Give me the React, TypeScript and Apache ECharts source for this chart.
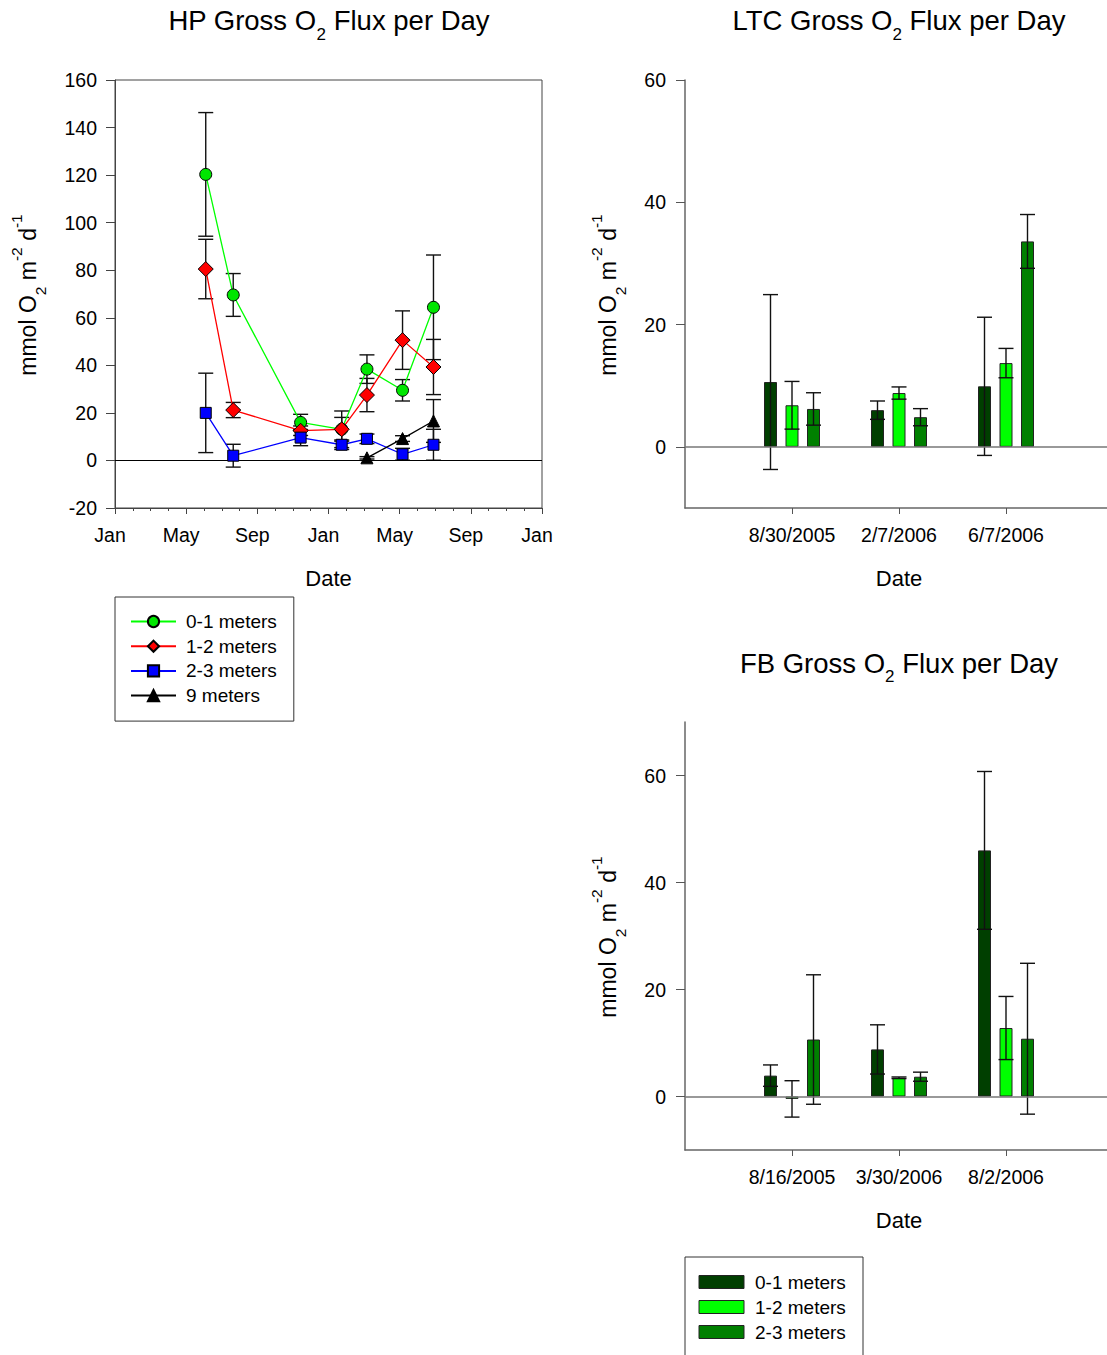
import React, { useEffect, useRef } from 'react';
import * as echarts from 'echarts';

const FONT = '"Liberation Sans", Arial, Helvetica, sans-serif';

// ---------- HP data ----------
const hpDates = ['2005-06-04', '2005-07-21', '2005-11-14', '2006-01-24', '2006-03-06', '2006-05-06', '2006-06-28'];
const hp01 = [120.3, 69.6, 16.0, 13.1, 38.4, 29.5, 64.4];
const hp01Err = [26, 9, 3.4, 5, 6, 4.5, 22];
const hp12 = [80.5, 21.2, 12.5, 13.1, 27.5, 50.6, 39.3];
const hp12Err = [12.5, 3.2, 2, 7.7, 7, 12.3, 11.6];
const hp23 = [20.0, 2.0, 9.6, 6.6, 9.1, 2.6, 6.6];
const hp23Err = [16.7, 4.8, 3.4, 2, 2, 2.5, 6.5];
const hp9Dates = ['2006-03-06', '2006-05-06', '2006-06-28'];
const hp9 = [1.1, 9.2, 16.6];
const hp9Err = [0.5, 1.2, 9];
const monthNames = ['Jan', 'Feb', 'Mar', 'Apr', 'May', 'Jun', 'Jul', 'Aug', 'Sep', 'Oct', 'Nov', 'Dec'];
const hpLegend = ['0-1 meters', '1-2 meters', '2-3 meters', '9 meters'];

// ---------- LTC data ----------
const ltcCats = ['', '8/30/2005', '2/7/2006', '6/7/2006', ''];
const ltc01 = [10.6, 6.0, 9.9];
const ltc01Err = [14.3, 1.5, 11.3];
const ltc12 = [6.8, 8.8, 13.7];
const ltc12Err = [3.9, 1.0, 2.4];
const ltc23 = [6.2, 4.85, 33.6];
const ltc23Err = [2.65, 1.4, 4.4];

// ---------- FB data ----------
const fbCats = ['', '8/16/2005', '3/30/2006', '8/2/2006', ''];
const fb01 = [3.9, 8.8, 46.0];
const fb01Err = [2.0, 4.6, 14.75];
const fb12 = [-0.45, 3.5, 12.8];
const fb12Err = [3.4, 0.15, 5.9];
const fb23 = [10.65, 3.7, 10.8];
const fb23Err = [12.1, 0.85, 14.1];
const barNames = ['0-1 meters', '1-2 meters', '2-3 meters'];
const barColors = ['#003f00', '#00ff00', '#008000'];

// ---------- texts ----------
const titleParts = (site: string) => [`${site} Gross O`, '2', ' Flux per Day'];
const yNameParts = ['mmol O', '2', ' m', '-2', ' d', '-1'];
const yNameKinds = ['m', 'sub', 'm', 'sup', 'm', 'sup'];

const BAR_W = 13;
const BAR_GAP = 8.5;

const toMonth = (s: string) => {
  const [y, m, d] = s.split('-').map(Number);
  const dim = new Date(y, m, 0).getDate();
  return (y - 2005) * 12 + (m - 1) + (d - 1) / dim;
};

let measureCtx: CanvasRenderingContext2D | null = null;
function measure(text: string, size: number) {
  if (!measureCtx) measureCtx = document.createElement('canvas').getContext('2d');
  if (!measureCtx) return text.length * size * 0.55;
  measureCtx.font = `${size}px "Liberation Sans", Arial, sans-serif`;
  return measureCtx.measureText(text).width;
}

type Part = { text: string; size: number; dy: number };
function richRow(parts: Part[]) {
  let x = 0;
  const children: any[] = [];
  parts.forEach((p) => {
    children.push({
      type: 'text',
      x,
      y: p.dy,
      style: { text: p.text, fontSize: p.size, fontFamily: FONT, fill: '#000', align: 'left', verticalAlign: 'middle' },
    });
    x += measure(p.text, p.size);
  });
  return { children, width: x };
}

function titleGraphic(site: string, cx: number, cy: number) {
  const sizes = [27.5, 17, 27.5];
  const dys = [0, 13.5, 0];
  const row = richRow(titleParts(site).map((t, i) => ({ text: t, size: sizes[i], dy: dys[i] })));
  return { type: 'group', x: cx - row.width / 2, y: cy, children: row.children };
}

function yNameGraphic(cx: number, cy: number) {
  const sz: any = { m: 23, sub: 15.5, sup: 15.5 };
  const dy: any = { m: 0, sub: 12.5, sup: -11.5 };
  const row = richRow(yNameParts.map((t, i) => ({ text: t, size: sz[yNameKinds[i]], dy: dy[yNameKinds[i]] })));
  return { type: 'group', x: cx, y: cy + row.width / 2, rotation: Math.PI / 2, children: row.children };
}

function errSeries(xIdx: number, yIdx: number, data: number[][], offset: number, z: number) {
  return {
    type: 'custom',
    xAxisIndex: xIdx,
    yAxisIndex: yIdx,
    z,
    silent: true,
    data,
    encode: { x: 0, y: 1 },
    renderItem: (params: any, api: any) => {
      const x0 = api.value(0);
      const v = api.value(1);
      const e = api.value(2);
      const top = api.coord([x0, v + e]);
      const bot = api.coord([x0, v - e]);
      const x = top[0] + offset;
      const st = { stroke: '#111', lineWidth: 1.4 };
      return {
        type: 'group',
        children: [
          { type: 'line', shape: { x1: x, y1: top[1], x2: x, y2: bot[1] }, style: st },
          { type: 'line', shape: { x1: x - 7.5, y1: top[1], x2: x + 7.5, y2: top[1] }, style: st },
          { type: 'line', shape: { x1: x - 7.5, y1: bot[1], x2: x + 7.5, y2: bot[1] }, style: st },
        ],
      };
    },
  };
}

function barAxes(gridIndex: number, cats: string[], max: number) {
  const x = {
    type: 'category',
    gridIndex,
    data: cats,
    boundaryGap: false,
    name: 'Date',
    nameLocation: 'middle',
    nameGap: 59,
    nameTextStyle: { fontSize: 22, fontFamily: FONT, color: '#000' },
    axisLine: { show: true, onZero: false, lineStyle: { color: '#666', width: 1.5 } },
    axisTick: { show: true, length: 6, interval: (i: number) => i >= 1 && i <= 3, lineStyle: { color: '#555' } },
    axisLabel: { fontSize: 19.5, fontFamily: FONT, color: '#000', margin: 17, interval: 0 },
    splitLine: { show: false },
  };
  const y = {
    type: 'value',
    gridIndex,
    min: -10,
    max,
    axisLine: { show: true, lineStyle: { color: '#666', width: 1.5 } },
    axisTick: { show: true, length: 9, customValues: [0, 20, 40, 60], lineStyle: { color: '#555' } },
    axisLabel: { fontSize: 19.5, fontFamily: FONT, color: '#000', margin: 19, customValues: [0, 20, 40, 60] },
    splitLine: { show: false },
  };
  return { x, y };
}

function barSeries(axisIdx: number, vals: number[][], errs: number[][]) {
  const out: any[] = [];
  vals.forEach((arr, i) => {
    out.push({
      type: 'bar',
      name: barNames[i],
      xAxisIndex: axisIdx,
      yAxisIndex: axisIdx,
      barWidth: BAR_W,
      barGap: `${(BAR_GAP / BAR_W) * 100}%`,
      itemStyle: { color: barColors[i], borderColor: '#222', borderWidth: 1 },
      data: [null, ...arr, null],
      z: 2,
      markLine:
        i === 0
          ? {
              silent: true,
              symbol: 'none',
              label: { show: false },
              lineStyle: { color: '#777', width: 1.5, type: 'solid' },
              data: [{ yAxis: 0 }],
            }
          : undefined,
    });
  });
  errs.forEach((arr, i) => {
    const off = (i - 1) * (BAR_W + BAR_GAP);
    out.push(errSeries(axisIdx, axisIdx, arr.map((e, k) => [k + 1, vals[i][k], e]), off, 4));
  });
  return out;
}

export default function App() {
  const ref = useRef<HTMLDivElement>(null);
  useEffect(() => {
    if (!ref.current) return;
    const chart = echarts.init(ref.current, undefined, { renderer: 'svg' });

    const ltcAx = barAxes(1, ltcCats, 60);
    const fbAx = barAxes(2, fbCats, 70);

    const hpLine = (name: string, dates: string[], vals: number[], color: string, mColor: string, symbol: string, size: number) => ({
      type: 'line',
      name,
      xAxisIndex: 0,
      yAxisIndex: 0,
      data: dates.map((d, i) => [toMonth(d), vals[i]]),
      symbol,
      symbolSize: size,
      lineStyle: { color, width: 1.3 },
      itemStyle: { color: mColor, borderColor: '#000', borderWidth: 1 },
      z: 5,
    });

    const option: any = {
      animation: false,
      backgroundColor: '#fff',
      textStyle: { fontFamily: FONT },
      legend: [
        {
          data: hpLegend,
          orient: 'vertical',
          left: 115,
          top: 597,
          itemWidth: 45,
          itemHeight: 14,
          itemGap: 5.7,
          padding: [15, 17, 16, 15],
          borderColor: '#333',
          borderWidth: 1,
          selectedMode: false,
          textStyle: { fontSize: 19, fontFamily: FONT, color: '#000', padding: [0, 0, 0, 5] },
        },
      ],
      grid: [
        { left: 115, top: 80, width: 427, height: 428, show: true, borderColor: '#444', borderWidth: 1, backgroundColor: 'transparent', outerBoundsMode: 'none', containLabel: false },
        { left: 685, top: 80, width: 428, height: 428, outerBoundsMode: 'none', containLabel: false },
        { left: 685, top: 722, width: 428, height: 428, outerBoundsMode: 'none', containLabel: false },
      ],
      xAxis: [
        {
          type: 'value',
          gridIndex: 0,
          min: 0,
          max: 24,
          interval: 4,
          name: 'Date',
          nameLocation: 'middle',
          nameGap: 59,
          nameTextStyle: { fontSize: 22, fontFamily: FONT, color: '#000' },
          axisLine: { show: true, onZero: false, lineStyle: { color: '#444', width: 1 } },
          axisTick: { show: true, length: 6, lineStyle: { color: '#444' } },
          minorTick: { show: true, splitNumber: 4, length: 3, lineStyle: { color: '#444' } },
          axisLabel: {
            fontSize: 19.5,
            fontFamily: FONT,
            color: '#000',
            margin: 17,
            padding: [0, 10, 0, 0],
            formatter: (v: number) => monthNames[Math.round(v) % 12],
          },
          splitLine: { show: false },
          minorSplitLine: { show: false },
        },
        ltcAx.x,
        fbAx.x,
      ],
      yAxis: [
        {
          type: 'value',
          gridIndex: 0,
          min: -20,
          max: 160,
          interval: 20,
          axisLine: { show: true, lineStyle: { color: '#444', width: 1 } },
          axisTick: { show: true, length: 9, lineStyle: { color: '#444' } },
          axisLabel: { fontSize: 19.5, fontFamily: FONT, color: '#000', margin: 18 },
          splitLine: { show: false },
        },
        ltcAx.y,
        fbAx.y,
      ],
      graphic: [
        titleGraphic('HP', 329, 20.5),
        titleGraphic('LTC', 899, 20.5),
        titleGraphic('FB', 899, 663),
        yNameGraphic(28, 295),
        yNameGraphic(607.5, 295),
        yNameGraphic(607.5, 937),
        { type: 'rect', shape: { x: 685, y: 1257, width: 178, height: 120 }, style: { fill: '#fff', stroke: '#333', lineWidth: 1 }, z: 10 },
        ...barNames.flatMap((n, i) => [
          { type: 'rect', shape: { x: 699, y: 1275.5 + i * 25, width: 45, height: 13 }, style: { fill: barColors[i], stroke: '#222', lineWidth: 1 }, z: 11 },
          { type: 'text', x: 755, y: 1282 + i * 25, style: { text: n, fontSize: 19, fontFamily: FONT, fill: '#000', verticalAlign: 'middle' }, z: 11 },
        ]),
      ],
      series: [
        hpLine('0-1 meters', hpDates, hp01, '#00ff00', '#00e600', 'circle', 12),
        hpLine('1-2 meters', hpDates, hp12, '#ff0000', '#ff0000', 'diamond', 15),
        hpLine('2-3 meters', hpDates, hp23, '#0000ff', '#0000ff', 'rect', 11),
        hpLine('9 meters', hp9Dates, hp9, '#000000', '#000000', 'triangle', 12),
        {
          type: 'line',
          xAxisIndex: 0,
          yAxisIndex: 0,
          data: [],
          markLine: {
            silent: true,
            symbol: 'none',
            label: { show: false },
            lineStyle: { color: '#000', width: 1, type: 'solid' },
            data: [{ yAxis: 0 }],
          },
        },
        errSeries(0, 0, hpDates.map((d, i) => [toMonth(d), hp01[i], hp01Err[i]]), 0, 3),
        errSeries(0, 0, hpDates.map((d, i) => [toMonth(d), hp12[i], hp12Err[i]]), 0, 3),
        errSeries(0, 0, hpDates.map((d, i) => [toMonth(d), hp23[i], hp23Err[i]]), 0, 3),
        errSeries(0, 0, hp9Dates.map((d, i) => [toMonth(d), hp9[i], hp9Err[i]]), 0, 3),
        ...barSeries(1, [ltc01, ltc12, ltc23], [ltc01Err, ltc12Err, ltc23Err]),
        ...barSeries(2, [fb01, fb12, fb23], [fb01Err, fb12Err, fb23Err]),
      ],
    };
    chart.setOption(option);
    return () => chart.dispose();
  }, []);
  return <div ref={ref} style={{ position: 'absolute', left: 0, top: 0, width: 1107, height: 1355 }} />;
}
